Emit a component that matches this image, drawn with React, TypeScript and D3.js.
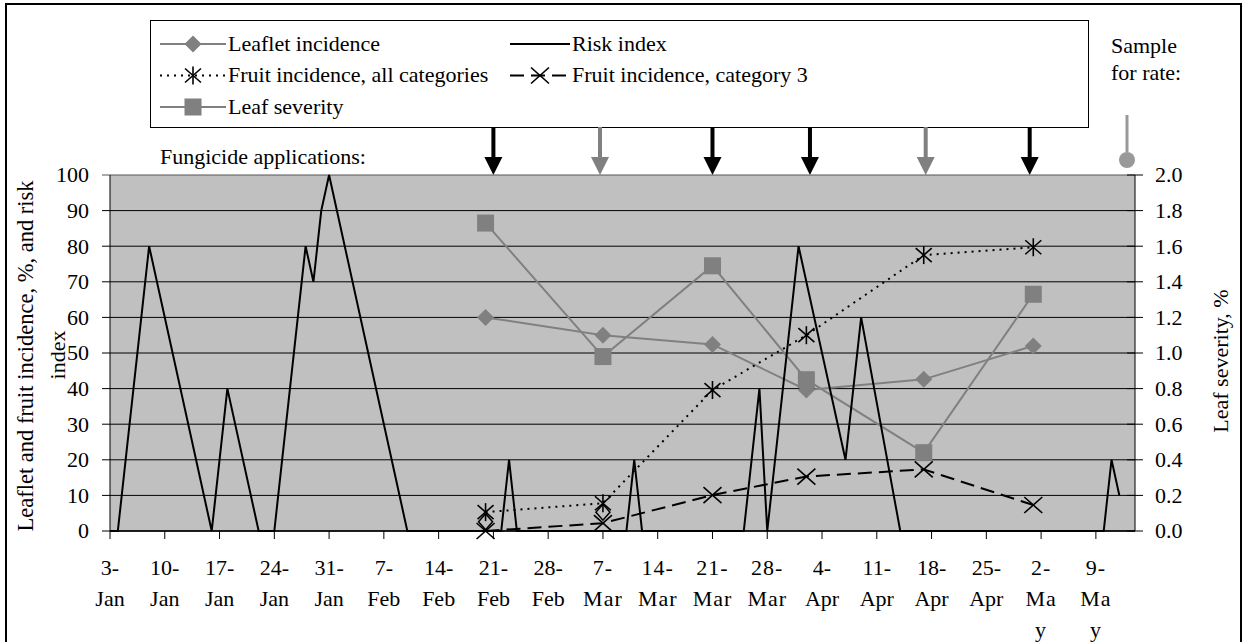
import React from "react";
import * as d3 from "d3";

// dates are read as day-month of a non-leap season
const YEAR = "2003";
const parseDay = d3.timeParse("%d-%b-%Y");
const parseHour = d3.timeParse("%d-%b-%Y %H");
const toDate = (s: string) => parseDay(`${s}-${YEAR}`) as Date;
const toDateHour = (s: string) => {
  const [dm, h] = s.split(" ");
  return parseHour(`${dm}-${YEAR} ${h}`) as Date;
};

const tickLabels = [
  "3-Jan", "10-Jan", "17-Jan", "24-Jan", "31-Jan", "7-Feb", "14-Feb", "21-Feb", "28-Feb",
  "7-Mar", "14-Mar", "21-Mar", "28-Mar", "4-Apr", "11-Apr", "18-Apr", "25-Apr", "2-May", "9-May",
];
const axisStart = "3-Jan";
const axisEnd = "14-May";

const riskDates = [
  "3-Jan", "4-Jan", "8-Jan", "16-Jan", "18-Jan", "22-Jan", "24-Jan", "28-Jan", "29-Jan",
  "30-Jan", "31-Jan", "10-Feb", "22-Feb", "23-Feb", "24-Feb", "10-Mar", "11-Mar", "12-Mar",
  "25-Mar", "27-Mar", "28-Mar", "1-Apr", "7-Apr", "9-Apr", "14-Apr", "10-May", "11-May", "12-May",
];
const riskValues = [
  0, 0, 80, 0, 40, 0, 0, 80, 70,
  90, 100, 0, 0, 20, 0, 0, 20, 0,
  0, 40, 0, 80, 20, 60, 0, 0, 20, 10,
];

const sampleDates = ["20-Feb", "7-Mar", "21-Mar", "2-Apr", "17-Apr", "1-May"];
const leafletIncidence = [60, 55, 52.4, 39.6, 42.6, 52];
const fruitAll = [5.3, 7.8, 39.6, 55, 77.5, 79.7];
const fruitCat3 = [0, 2.2, 10.1, 15.3, 17.3, 7.3];
const leafSeverity = [1.73, 0.98, 1.49, 0.85, 0.44, 1.33];

// unlabelled hollow diamonds near the base line
const extraDates = ["20-Feb", "7-Mar"];
const extraValues = [2.6, 5.3];

const fungicideDates = ["21-Feb 00", "6-Mar 15", "21-Mar 00", "2-Apr 11", "17-Apr 06", "30-Apr 13"];
const fungicideKind = ["A", "B", "A", "A", "B", "A"];

const legendLabels = [
  "Leaflet incidence",
  "Risk index",
  "Fruit incidence, all categories",
  "Fruit incidence, category 3",
  "Leaf severity",
];

const W = 1245;
const H = 642;
const plot = { left: 110, right: 1135, top: 175, bottom: 531 };
const FONT = "'Liberation Serif', 'Times New Roman', serif";
const GRAY = "#808080";
const BG = "#c0c0c0";

const x = d3.scaleTime().domain([toDate(axisStart), toDate(axisEnd)]).range([plot.left, plot.right]);
const yL = d3.scaleLinear().domain([0, 100]).range([plot.bottom, plot.top]);
const yR = d3.scaleLinear().domain([0, 2]).range([plot.bottom, plot.top]);

type Pt = { d: Date; v: number };
const zip = (dates: string[], vals: number[]): Pt[] => dates.map((s, i) => ({ d: toDate(s), v: vals[i] }));

const lineL = d3.line<Pt>().x((p) => x(p.d)).y((p) => yL(p.v));
const lineR = d3.line<Pt>().x((p) => x(p.d)).y((p) => yR(p.v));

const Marker = ({ type, cx, cy }: { type: string; cx: number; cy: number }) => {
  if (type === "diamond")
    return <path d={`M${cx},${cy - 8.5}L${cx + 8.5},${cy}L${cx},${cy + 8.5}L${cx - 8.5},${cy}Z`} fill={GRAY} />;
  if (type === "hollow")
    return (
      <path d={`M${cx},${cy - 8}L${cx + 7},${cy}L${cx},${cy + 8}L${cx - 7},${cy}Z`} fill="none" stroke="#000" strokeWidth={1.5} />
    );
  if (type === "square") return <rect x={cx - 8.5} y={cy - 8.5} width={17} height={17} fill={GRAY} />;
  if (type === "star")
    return (
      <g stroke="#000" strokeWidth={1.6}>
        <line x1={cx} y1={cy - 9} x2={cx} y2={cy + 9} />
        <line x1={cx - 8} y1={cy - 7} x2={cx + 8} y2={cy + 7} />
        <line x1={cx - 8} y1={cy + 7} x2={cx + 8} y2={cy - 7} />
      </g>
    );
  if (type === "x")
    return (
      <g stroke="#000" strokeWidth={1.6}>
        <line x1={cx - 9} y1={cy - 8} x2={cx + 9} y2={cy + 8} />
        <line x1={cx - 9} y1={cy + 8} x2={cx + 9} y2={cy - 8} />
      </g>
    );
  return null;
};

const styles = [
  { stroke: GRAY, dash: undefined, marker: "diamond" },
  { stroke: "#000", dash: undefined, marker: "" },
  { stroke: "#000", dash: "2 5", marker: "star" },
  { stroke: "#000", dash: "14 7", marker: "x" },
  { stroke: GRAY, dash: undefined, marker: "square" },
];

export default function App() {
  const leaflet = zip(sampleDates, leafletIncidence);
  const severity = zip(sampleDates, leafSeverity);
  const fAll = zip(sampleDates, fruitAll);
  const fCat3 = zip(sampleDates, fruitCat3);
  const extra = zip(extraDates, extraValues);
  const risk = zip(riskDates, riskValues);
  const ticks = tickLabels.map(toDate);

  return (
    <svg width={W} height={H} style={{ position: "absolute", left: 0, top: 0 }} fontFamily={FONT} fontSize={22}>
      <rect x={0} y={0} width={W} height={H} fill="#fff" />
      <rect x={6} y={4} width={1235} height={660} fill="none" stroke="#000" strokeWidth={2} />

      {/* legend */}
      <rect x={150.5} y={20.5} width={938} height={107} fill="#fff" stroke="#000" />
      {legendLabels.map((label, i) => {
        const col = i % 2;
        const row = Math.floor(i / 2);
        const x0 = col === 0 ? 160 : 510;
        const x1 = col === 0 ? 226 : 570;
        const cy = 44 + row * 31.5;
        const st = styles[i];
        return (
          <g key={label}>
            <line x1={x0} x2={x1} y1={cy} y2={cy} stroke={st.stroke} strokeWidth={2} strokeDasharray={st.dash} />
            {st.marker && <Marker type={st.marker} cx={(x0 + x1) / 2} cy={cy} />}
            <text x={x1 + 2} y={cy + 6.5}>{label}</text>
          </g>
        );
      })}

      <text x={1111} y={53}>Sample</text>
      <text x={1111} y={80}>for rate:</text>
      <line x1={plot.right - 8} x2={plot.right - 8} y1={115} y2={152} stroke="#999" strokeWidth={3} />
      <circle cx={plot.right - 8} cy={160} r={8} fill="#999" />

      <text x={160} y={164}>Fungicide applications:</text>
      {fungicideDates.map((s, i) => {
        const ax = x(toDateHour(s));
        const c = fungicideKind[i] === "A" ? "#000" : GRAY;
        return (
          <g key={s} fill={c}>
            <rect x={ax - 2} y={127} width={4} height={32} />
            <path d={`M${ax - 9},${157}L${ax + 9},${157}L${ax},${175}Z`} />
          </g>
        );
      })}

      {/* plot area */}
      <rect x={plot.left} y={plot.top} width={plot.right - plot.left} height={plot.bottom - plot.top} fill={BG} />
      {yL.ticks(10).map((t) => (
        <line key={t} x1={plot.left - 8} x2={plot.right} y1={yL(t)} y2={yL(t)} stroke={t === 100 ? "#555" : "#000"} />
      ))}
      {yR.ticks(10).map((t) => (
        <line key={"r" + t} x1={plot.right - 8} x2={plot.right + 8} y1={yR(t)} y2={yR(t)} stroke="#000" />
      ))}
      <line x1={plot.left} x2={plot.left} y1={plot.top} y2={plot.bottom} stroke="#000" />
      <line x1={plot.right} x2={plot.right} y1={plot.top} y2={plot.bottom} stroke="#000" />
      <line x1={plot.left} x2={plot.right} y1={plot.bottom} y2={plot.bottom} stroke="#000" strokeWidth={1.5} />
      {ticks.map((t, i) => (
        <line key={i} x1={x(t)} x2={x(t)} y1={plot.bottom} y2={plot.bottom + 8} stroke="#000" />
      ))}

      {/* series */}
      <path d={lineL(leaflet) || ""} fill="none" stroke={GRAY} strokeWidth={2} />
      {leaflet.map((p, i) => <Marker key={i} type="diamond" cx={x(p.d)} cy={yL(p.v)} />)}
      <path d={lineR(severity) || ""} fill="none" stroke={GRAY} strokeWidth={2} />
      {severity.map((p, i) => <Marker key={i} type="square" cx={x(p.d)} cy={yR(p.v)} />)}
      {extra.map((p, i) => <Marker key={i} type="hollow" cx={x(p.d)} cy={yL(p.v)} />)}
      <path d={lineL(fAll) || ""} fill="none" stroke="#000" strokeWidth={2} strokeDasharray="2 5" />
      {fAll.map((p, i) => <Marker key={i} type="star" cx={x(p.d)} cy={yL(p.v)} />)}
      <path d={lineL(fCat3) || ""} fill="none" stroke="#000" strokeWidth={2} strokeDasharray="14 7" />
      {fCat3.map((p, i) => <Marker key={i} type="x" cx={x(p.d)} cy={yL(p.v)} />)}
      <path d={lineL(risk) || ""} fill="none" stroke="#000" strokeWidth={2} strokeLinejoin="miter" />

      {/* axis labels */}
      {yL.ticks(10).map((t) => (
        <text key={t} x={89} y={yL(t)} dy="0.34em" textAnchor="end">{t}</text>
      ))}
      {yR.ticks(10).map((t) => (
        <text key={t} x={1155} y={yR(t)} dy="0.34em">{d3.format(".1f")(t)}</text>
      ))}
      {tickLabels.map((lab, i) => {
        const [day, mon] = lab.split("-");
        const lines = [day + "-", ...(mon === "May" ? ["Ma", "y"] : [mon])];
        return (
          <text key={lab} textAnchor="middle" letterSpacing={mon === "Mar" || mon === "May" ? 1 : 0}>
            {lines.map((l, j) => (
              <tspan key={j} x={x(ticks[i])} y={575 + j * 31}>{l}</tspan>
            ))}
          </text>
        );
      })}

      <text transform={`translate(33,356) rotate(-90)`} textAnchor="middle" fontSize={22.5}>
        Leaflet and fruit incidence, %, and risk
      </text>
      <text transform={`translate(65,355) rotate(-90)`} textAnchor="middle">index</text>
      <text transform={`translate(1228,361) rotate(-90)`} textAnchor="middle">Leaf severity, %</text>
    </svg>
  );
}
